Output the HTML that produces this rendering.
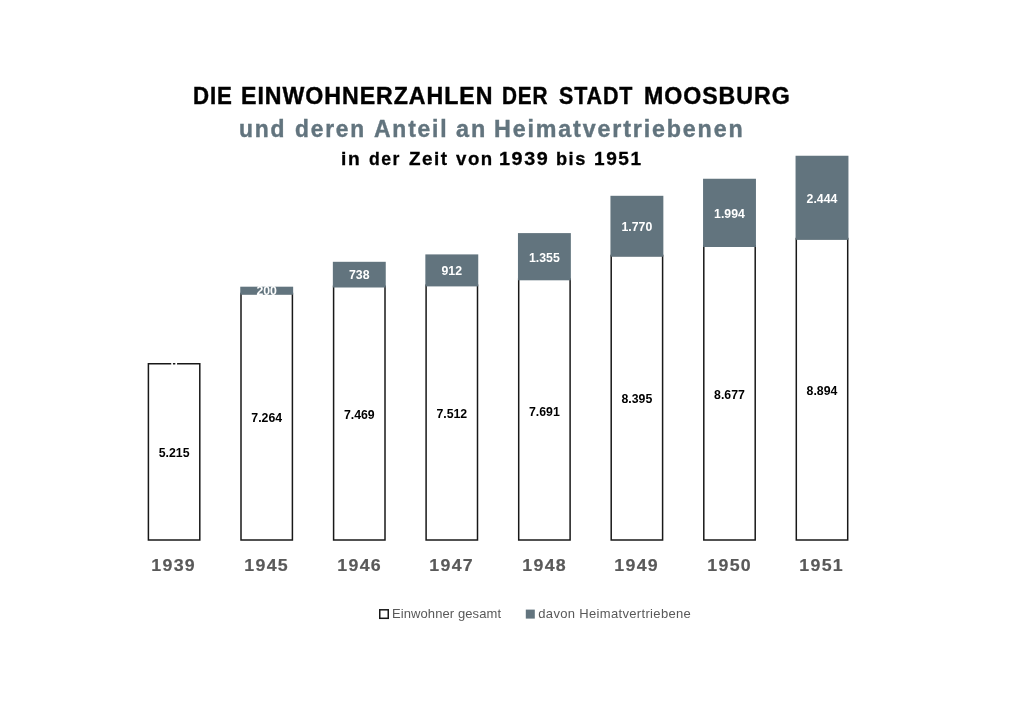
<!DOCTYPE html>
<html lang="de"><head><meta charset="utf-8"><title>Die Einwohnerzahlen der Stadt Moosburg</title>
<style>
html,body{margin:0;padding:0;background:#fff;}
body{width:1024px;height:724px;position:relative;overflow:hidden;font-family:"Liberation Sans",sans-serif;}
svg{position:absolute;left:0;top:0;}
.t{position:absolute;white-space:nowrap;line-height:1;}
#txt{position:absolute;left:0;top:0;width:1024px;height:724px;will-change:transform;}
.h1,.h2,.h3{font-weight:bold;transform-origin:0 0;-webkit-text-stroke:0.4px currentColor;}
.h3{-webkit-text-stroke-width:0.3px;}
.h1{font-size:23px;color:#000;top:85.4px;letter-spacing:0.955px;}
.h2{font-size:23px;color:#62747E;top:117.6px;letter-spacing:1.84px;}
.h3{font-size:19px;color:#000;top:148.6px;letter-spacing:1.535px;}
.v{width:80px;text-align:center;font-weight:bold;font-size:12.3px;}
.k{color:#000;}
.w{color:#fff;}
.y{width:80px;text-align:center;font-weight:bold;font-size:16.8px;color:#595959;letter-spacing:1.25px;text-indent:1.25px;transform:scaleX(1.06);-webkit-text-stroke:0.2px currentColor;}
.l{font-size:13px;color:#595959;}
</style></head><body>
<svg width="1024" height="724" viewBox="0 0 1024 724">
<rect x="148.40" y="363.75" width="51.40" height="176.25" fill="#fff" stroke="#181818" stroke-width="1.5"/>
<rect x="241.00" y="293.45" width="51.40" height="246.55" fill="#fff" stroke="#181818" stroke-width="1.5"/>
<rect x="240.25" y="286.70" width="52.90" height="8.00" fill="#62747E"/>
<rect x="333.60" y="286.25" width="51.40" height="253.75" fill="#fff" stroke="#181818" stroke-width="1.5"/>
<rect x="332.85" y="261.80" width="52.90" height="25.70" fill="#62747E"/>
<rect x="426.10" y="285.15" width="51.40" height="254.85" fill="#fff" stroke="#181818" stroke-width="1.5"/>
<rect x="425.35" y="254.40" width="52.90" height="32.00" fill="#62747E"/>
<rect x="518.70" y="279.05" width="51.40" height="260.95" fill="#fff" stroke="#181818" stroke-width="1.5"/>
<rect x="517.95" y="233.10" width="52.90" height="47.20" fill="#62747E"/>
<rect x="611.20" y="255.45" width="51.40" height="284.55" fill="#fff" stroke="#181818" stroke-width="1.5"/>
<rect x="610.45" y="195.80" width="52.90" height="60.90" fill="#62747E"/>
<rect x="703.80" y="245.75" width="51.40" height="294.25" fill="#fff" stroke="#181818" stroke-width="1.5"/>
<rect x="703.05" y="178.75" width="52.90" height="68.25" fill="#62747E"/>
<rect x="796.30" y="238.55" width="51.40" height="301.45" fill="#fff" stroke="#181818" stroke-width="1.5"/>
<rect x="795.55" y="155.75" width="52.90" height="84.05" fill="#62747E"/>
<rect x="379.75" y="609.8" width="8.5" height="8.5" fill="#fff" stroke="#181818" stroke-width="1.5"/>
<rect x="525.8" y="609.6" width="9" height="9" fill="#62747E"/>
</svg>
<div id="txt">
<div class="ttl"><span class="t h1" style="left:193.26px;transform:scaleX(0.9675)">DIE</span> <span class="t h1" style="left:240.61px;transform:scaleX(1.0069)">EINWOHNERZAHLEN</span> <span class="t h1" style="left:502.03px;transform:scaleX(0.9026)">DER</span> <span class="t h1" style="left:559.03px;transform:scaleX(0.9325)">STADT</span> <span class="t h1" style="left:643.98px;transform:scaleX(1.0068)">MOOSBURG</span></div>
<div class="ttl"><span class="t h2" style="left:239.21px;transform:scaleX(0.9936)">und</span> <span class="t h2" style="left:294.79px;transform:scaleX(0.9884)">deren</span> <span class="t h2" style="left:373.7px;transform:scaleX(0.9941)">Anteil</span> <span class="t h2" style="left:456.36px;transform:scaleX(1.017)">an</span> <span class="t h2" style="left:494.06px;transform:scaleX(1.0105)">Heimatvertriebenen</span></div>
<div class="ttl"><span class="t h3" style="left:340.58px;transform:scaleX(1.0111)">in</span> <span class="t h3" style="left:369.08px;transform:scaleX(0.9272)">der</span> <span class="t h3" style="left:409.26px;transform:scaleX(0.9929)">Zeit</span> <span class="t h3" style="left:455.62px;transform:scaleX(0.9824)">von</span> <span class="t h3" style="left:499.39px;transform:scaleX(1.0406)">1939</span> <span class="t h3" style="left:555.88px;transform:scaleX(0.9585)">bis</span> <span class="t h3" style="left:594.05px;transform:scaleX(1.0025)">1951</span></div>
<div class="t v k" style="left:134.10px;top:446.60px">5.215</div>
<div class="t v w" style="left:134.10px;top:358.10px">0</div>
<div class="t y" style="left:133.40px;top:558px">1939</div>
<div class="t v k" style="left:226.70px;top:411.60px">7.264</div>
<div class="t v w" style="left:226.70px;top:285.20px">200</div>
<div class="t y" style="left:226.00px;top:558px">1945</div>
<div class="t v k" style="left:319.30px;top:408.60px">7.469</div>
<div class="t v w" style="left:319.30px;top:269.40px">738</div>
<div class="t y" style="left:318.60px;top:558px">1946</div>
<div class="t v k" style="left:411.80px;top:408.25px">7.512</div>
<div class="t v w" style="left:411.80px;top:265.25px">912</div>
<div class="t y" style="left:411.10px;top:558px">1947</div>
<div class="t v k" style="left:504.40px;top:405.80px">7.691</div>
<div class="t v w" style="left:504.40px;top:252.15px">1.355</div>
<div class="t y" style="left:503.70px;top:558px">1948</div>
<div class="t v k" style="left:596.90px;top:392.80px">8.395</div>
<div class="t v w" style="left:596.90px;top:221.00px">1.770</div>
<div class="t y" style="left:596.20px;top:558px">1949</div>
<div class="t v k" style="left:689.50px;top:388.80px">8.677</div>
<div class="t v w" style="left:689.50px;top:207.70px">1.994</div>
<div class="t y" style="left:688.80px;top:558px">1950</div>
<div class="t v k" style="left:782.00px;top:384.50px">8.894</div>
<div class="t v w" style="left:782.00px;top:193.20px">2.444</div>
<div class="t y" style="left:781.30px;top:558px">1951</div>
<div class="t l" style="left:392px;top:607.4px;letter-spacing:0.09px">Einwohner gesamt</div>
<div class="t l" style="left:538.3px;top:607.4px;letter-spacing:0.33px">davon Heimatvertriebene</div>
</div>
</body></html>
